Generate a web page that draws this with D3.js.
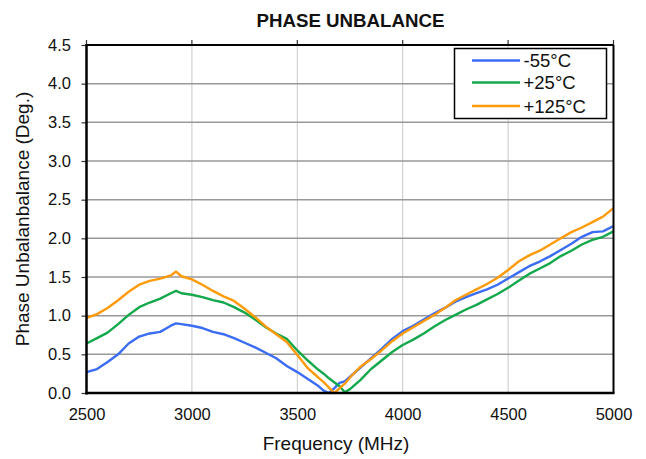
<!DOCTYPE html>
<html><head><meta charset="utf-8">
<script src="https://cdn.jsdelivr.net/npm/d3@7"></script>
<style>body{margin:0;background:#fff}svg{display:block}text{font-family:"Liberation Sans",Arial,sans-serif}</style>
</head><body><svg id="c" width="646" height="459"></svg>
<script>
const freqs = [2500,2550,2600,2650,2700,2750,2800,2850,2900,2925,2950,3000,3050,3100,3150,3200,3250,3300,3350,3400,3450,3500,3550,3600,3625,3650,3675,3700,3725,3750,3800,3850,3900,3950,4000,4050,4100,4150,4200,4250,4300,4350,4400,4450,4500,4550,4600,4650,4700,4750,4800,4850,4900,4950,5000];
const blue = [0.27,0.31,0.40,0.50,0.64,0.73,0.77,0.79,0.87,0.90,0.89,0.87,0.84,0.79,0.76,0.71,0.65,0.59,0.52,0.45,0.35,0.27,0.18,0.09,0.03,0.00,0.06,0.13,0.15,0.21,0.33,0.45,0.57,0.70,0.80,0.87,0.95,1.03,1.10,1.18,1.24,1.29,1.34,1.40,1.48,1.56,1.64,1.70,1.77,1.85,1.93,2.02,2.08,2.09,2.16];
const green = [0.64,0.71,0.78,0.89,1.01,1.11,1.17,1.22,1.29,1.32,1.29,1.27,1.24,1.20,1.17,1.11,1.04,0.95,0.85,0.77,0.70,0.55,0.42,0.30,0.25,0.19,0.14,0.09,0.01,0.05,0.17,0.31,0.42,0.53,0.62,0.69,0.77,0.86,0.94,1.01,1.08,1.14,1.21,1.28,1.36,1.45,1.54,1.61,1.68,1.77,1.84,1.92,1.98,2.02,2.09];
const orange = [0.97,1.02,1.10,1.20,1.31,1.40,1.45,1.48,1.52,1.57,1.51,1.47,1.40,1.32,1.25,1.19,1.09,0.98,0.86,0.76,0.66,0.49,0.32,0.20,0.14,0.07,0.00,0.06,0.12,0.20,0.34,0.44,0.55,0.67,0.77,0.85,0.93,1.01,1.10,1.20,1.27,1.34,1.41,1.49,1.59,1.70,1.78,1.84,1.92,2.00,2.08,2.14,2.21,2.28,2.39];
const seriesNames = ["-55°C","+25°C","+125°C"];
const seriesColors = ["#3a6cf4","#13a84b","#ff9a0a"];
const xTicks = [2500,3000,3500,4000,4500,5000];
const yTicks = [0,0.5,1,1.5,2,2.5,3,3.5,4,4.5];

const svg = d3.select("#c");
const L=86.5, R=613.5, T=45, B=393;
const x = d3.scaleLinear().domain([2500,5000]).range([L,R]);
const y = d3.scaleLinear().domain([0,4.5]).range([B,T]);

svg.append("g").selectAll("line").data(xTicks.slice(1,-1)).join("line")
  .attr("x1",d=>x(d)).attr("x2",d=>x(d)).attr("y1",T).attr("y2",B)
  .attr("stroke","#c8c8c8").attr("stroke-width",1);
svg.append("g").selectAll("line").data(yTicks.slice(1,-1)).join("line")
  .attr("x1",L).attr("x2",R).attr("y1",d=>y(d)).attr("y2",d=>y(d))
  .attr("stroke","#999").attr("stroke-width",1.5);

const ya = svg.append("g").attr("transform",`translate(${L},0)`)
  .call(d3.axisLeft(y).tickValues(yTicks).tickFormat(d3.format(".1f")).tickSize(5).tickPadding(10.5));
ya.select(".domain").remove();
ya.selectAll("line").attr("stroke","#333").attr("stroke-width",1.2);
ya.selectAll("text").attr("font-size",16.5).attr("fill","#111").attr("font-family","Liberation Sans, Arial, sans-serif");

const xa = svg.append("g").attr("transform",`translate(0,${B})`)
  .call(d3.axisBottom(x).tickValues(xTicks).tickFormat(d3.format("d")).tickSize(0).tickPadding(15));
xa.select(".domain").remove();
xa.selectAll("text").attr("font-size",16.5).attr("fill","#111").attr("font-family","Liberation Sans, Arial, sans-serif");
svg.append("g").selectAll("line").data(xTicks).join("line")
  .attr("x1",d=>x(d)).attr("x2",d=>x(d)).attr("y1",T-5).attr("y2",T)
  .attr("stroke","#333").attr("stroke-width",1.2);

const data = [blue,green,orange];
const line = d3.line().x((d,i)=>x(freqs[i])).y(d=>y(d));
svg.append("g").selectAll("path").data(data).join("path")
  .attr("d",line).attr("fill","none")
  .attr("stroke",(d,i)=>seriesColors[i]).attr("stroke-width",2.4)
  .attr("stroke-linejoin","round");

svg.append("line").attr("x1",L).attr("x2",R).attr("y1",T).attr("y2",T).attr("stroke","#000").attr("stroke-width",2);
svg.append("line").attr("x1",R).attr("x2",R).attr("y1",T).attr("y2",B).attr("stroke","#000").attr("stroke-width",2);
svg.append("line").attr("x1",L).attr("x2",L).attr("y1",T-1).attr("y2",B+1.5).attr("stroke","#000").attr("stroke-width",2.5);
svg.append("line").attr("x1",L-1).attr("x2",R+1).attr("y1",B).attr("y2",B).attr("stroke","#000").attr("stroke-width",2.5);

const lg = svg.append("g");
lg.append("rect").attr("x",454.5).attr("y",48.5).attr("width",152).attr("height",70)
  .attr("fill","#fff").attr("stroke","#000").attr("stroke-width",1.5);
const rows = [60.5,82.5,106];
seriesNames.forEach((n,i)=>{
  lg.append("line").attr("x1",472).attr("x2",520).attr("y1",rows[i]).attr("y2",rows[i])
    .attr("stroke",seriesColors[i]).attr("stroke-width",2.4);
  lg.append("text").attr("x",523.5).attr("y",rows[i]+6.5).attr("font-size",18.5).attr("fill","#111").text(n);
});

svg.append("text").attr("x",350.5).attr("y",26.5).attr("text-anchor","middle")
  .attr("font-size",18.7).attr("font-weight","bold").attr("fill","#111").text("PHASE UNBALANCE");
svg.append("text").attr("x",336).attr("y",450).attr("text-anchor","middle")
  .attr("font-size",19).attr("fill","#111").text("Frequency (MHz)");
svg.append("text").attr("transform","translate(28.5,219) rotate(-90)").attr("text-anchor","middle")
  .attr("font-size",19).attr("fill","#111").text("Phase Unbalanbalance (Deg.)");
</script></body></html>
